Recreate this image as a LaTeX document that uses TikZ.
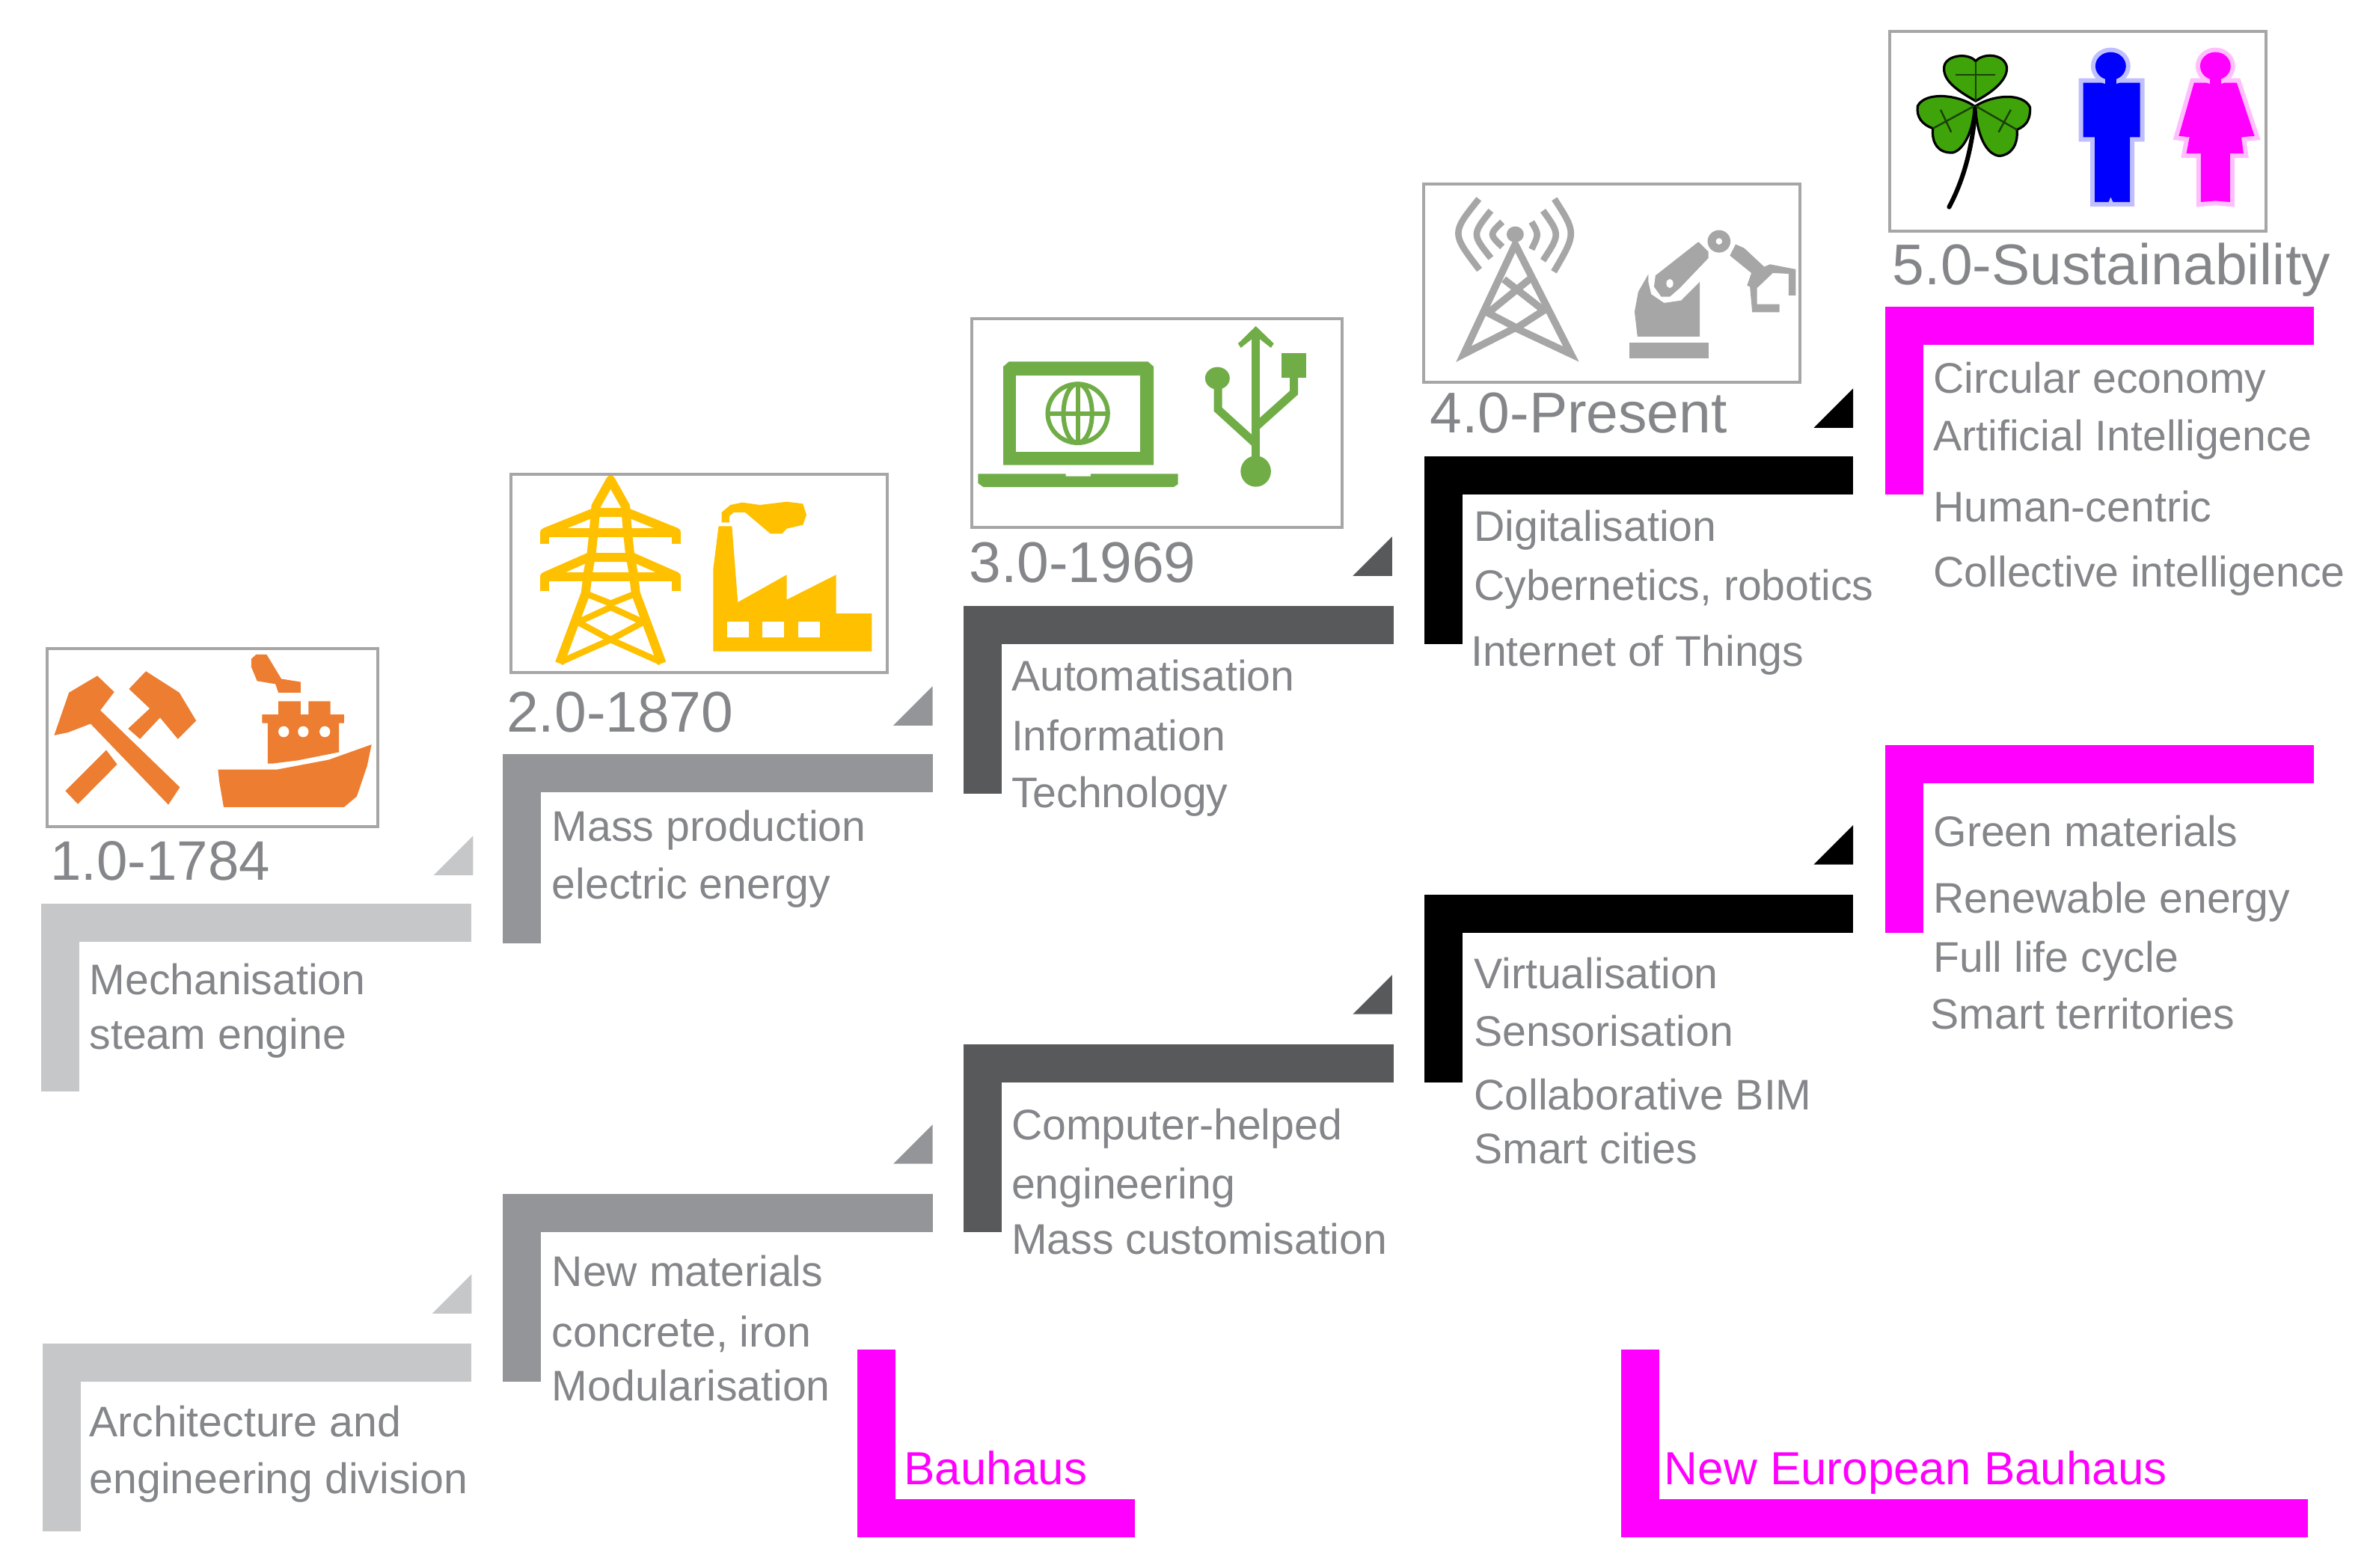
\documentclass[tikz,border=0pt]{standalone}
\usepackage{fontspec}
\setmainfont{Liberation Sans}
\usepackage{tikz}
\definecolor{bargrayA}{HTML}{C6C7C9}
\definecolor{bargrayB}{HTML}{939598}
\definecolor{bargrayC}{HTML}{58595B}
\definecolor{textgray}{HTML}{85868A}
\definecolor{boxgray}{HTML}{A6A6A6}
\definecolor{mag}{HTML}{FF00FF}
\definecolor{iconorange}{HTML}{ED7D31}
\definecolor{iconyellow}{HTML}{FFC000}
\definecolor{icongreen}{HTML}{70AD47}
\definecolor{leafgreen}{HTML}{3FA30A}

\begin{document}
\begin{tikzpicture}[
      x=1.0102pt,y=-1.0102pt,
      elbow/.style={
         line width=25.5pt,
         miter limit=10
      },
      iconbox/.style={
         draw=boxgray,
         line width=2pt,
         fill=white
      },
      stage/.style={
         anchor=base west,
         inner sep=0pt,
         text=textgray,
         font=\fontsize{38.4}{44}\selectfont
      },
      item/.style={
         anchor=base west,
         inner sep=0pt,
         text=textgray,
         font=\fontsize{28.6}{34}\selectfont
      },
      bauhaus/.style={
         anchor=base west,
         inner sep=0pt,
         text=mag,
         font=\fontsize{31}{36}\selectfont
      },
      % the icon scopes count in pixels of the zoomed crops
      cropA/.style={x=0.1977pt,y=-0.2041pt},
      cropB/.style={x=0.1977pt,y=-0.1667pt},
      cropC/.style={x=0.1913pt,y=-0.1667pt},
      cropD/.style={x=0.2041pt,y=-0.1667pt},
      pylon/.style={draw=iconyellow,line width=6pt,line join=round},
      lattice/.style={draw=iconyellow,line width=4.2pt},
      usbline/.style={draw=icongreen,line width=5.5pt},
      globe/.style={draw=icongreen,line width=3pt},
      wave/.style={draw=boxgray,line width=4.3pt},
      mast/.style={draw=boxgray,line width=4.8pt},
      leaf/.style={fill=leafgreen,draw=black,line width=1.6pt},
      vein/.style={draw=black!60!leafgreen,line width=1.2pt},
      man/.style={fill=blue,preaction={draw=blue!25,line width=6pt}},
      woman/.style={fill=mag,preaction={draw=mag!25,line width=6pt}}
    ]
    \useasboundingbox (0,0) rectangle (1568,1037.4);

    % upper stair
    \draw[elbow,draw=bargrayA] (40,722) |- (312,610.5);
    \draw[elbow,draw=bargrayB] (345,624) |- (617,511.5);
    \draw[elbow,draw=bargrayC] (650,525) |- (922,413.5);
    \draw[elbow,draw=black] (955,426) |- (1226,314.5);
    \draw[elbow,draw=mag] (1260,327) |- (1531,215.5);
    % lower stair
    \draw[elbow,draw=bargrayA] (41,1013) |- (312,901.5);
    \draw[elbow,draw=bargrayB] (345,914) |- (617,802.5);
    \draw[elbow,draw=bargrayC] (650,815) |- (922,703.5);
    \draw[elbow,draw=black] (955,716) |- (1226,604.5);
    \draw[elbow,draw=mag] (1260,617) |- (1531,505.5);
    \draw[elbow,draw=mag] (580,893) |- (751,1004.5);
    \draw[elbow,draw=mag] (1085,893) |- (1527,1004.5);

    \fill[bargrayA] (313,579) -- ++(-26,0) -- ++(26,-26) -- cycle;
    \fill[bargrayB] (617,480) -- ++(-26,0) -- ++(26,-26) -- cycle;
    \fill[bargrayC] (921,381) -- ++(-26,0) -- ++(26,-26) -- cycle;
    \fill[black] (1226,283) -- ++(-26,0) -- ++(26,-26) -- cycle;
    \fill[bargrayA] (312,869) -- ++(-26,0) -- ++(26,-26) -- cycle;
    \fill[bargrayB] (617,770) -- ++(-26,0) -- ++(26,-26) -- cycle;
    \fill[bargrayC] (921,671) -- ++(-26,0) -- ++(26,-26) -- cycle;
    \fill[black] (1226,572) -- ++(-26,0) -- ++(26,-26) -- cycle;

    \draw[iconbox] (31,429) rectangle (250,547);
    \draw[iconbox] (338,314) rectangle (587,445);
    \draw[iconbox] (643,211) rectangle (888,349);
    \draw[iconbox] (942,122) rectangle (1191,253);
    \draw[iconbox] (1250,21) rectangle (1499,153);

    \node (s1) [stage,font=\fontsize{37.2}{44}\selectfont] at (33,582.5) {1.0-1784};
    \node (s2) [stage] at (335,484.5) {2.0-1870};
    \node (s3) [stage] at (641,385.5) {3.0-1969};
    \node (s4) [stage] at (946,286.5) {4.0-Present};
    \node (s5) [stage] at (1252,188.5) {5.0-Sustainability};

    \node (n11) [item] at (59,658) {Mechanisation};
    \node (n12) [item] at (59,694) {steam engine};
    \node (n21) [item] at (365,556.5) {Mass production};
    \node (n22) [item] at (365,594.5) {electric energy};
    \node (n31) [item] at (669,457) {Automatisation};
    \node (n32) [item] at (669,496.5) {Information};
    \node (n33) [item] at (669,534.5) {Technology};
    \node (n41) [item] at (975,358) {Digitalisation};
    \node (n42) [item] at (975,397) {Cybernetics, robotics};
    \node (n43) [item] at (973,440.5) {Internet of Things};
    \node (n51) [item] at (1279,260) {Circular economy};
    \node (n52) [item] at (1279,298) {Artificial Intelligence};
    \node (n53) [item] at (1279,345) {Human-centric};
    \node (n54) [item] at (1279,388.5) {Collective intelligence};

    \node (m11) [item] at (59,950.5) {Architecture and};
    \node (m12) [item] at (59,988) {engineering division};
    \node (m21) [item] at (365,851) {New materials};
    \node (m22) [item] at (365,891) {concrete, iron};
    \node (m23) [item] at (365,927) {Modularisation};
    \node (m31) [item] at (669,754) {Computer-helped};
    \node (m32) [item] at (669,793) {engineering};
    \node (m33) [item] at (669,830) {Mass customisation};
    \node (m41) [item] at (975,654) {Virtualisation};
    \node (m42) [item] at (975,692) {Sensorisation};
    \node (m43) [item] at (975,734) {Collaborative BIM};
    \node (m44) [item] at (975,770) {Smart cities};
    \node (m51) [item] at (1279,560) {Green materials};
    \node (m52) [item] at (1279,604) {Renewable energy};
    \node (m53) [item] at (1279,643) {Full life cycle};
    \node (m54) [item] at (1277,681) {Smart territories};

    \node (b1) [bauhaus] at (598,982) {Bauhaus};
    \node (b2) [bauhaus] at (1101,982) {New European Bauhaus};

    % hammers and ship
    \begin{scope}[shift={(19.8,415.8)},cropA]
      \fill[iconorange] (82,350) -- (132,210) -- (205,168) -- (228,155) -- (285,208) -- (238,268) -- (507,520) -- (468,577) -- (205,312) -- (130,340) -- cycle;
      \fill[iconorange] (335,198) -- (392,140) -- (505,210) -- (562,302) -- (500,362) -- (440,292) -- (372,362) -- (332,328) -- (405,262) -- cycle;
      \fill[iconorange] (258,398) -- (295,445) -- (162,575) -- (120,532) -- cycle;
      \fill[iconorange] (748,100) -- (765,85) -- (800,85) -- (850,165) -- (915,175) -- (915,210) -- (840,210) -- (830,182) -- (768,172) -- (748,125) -- cycle;
      \fill[iconorange] (840,238) -- (915,238) -- (915,282) -- (942,282) -- (942,238) -- (1016,238) -- (1016,282) -- (1062,282) -- (1062,310) -- (1045,310) -- (1045,405) -- (905,432) -- (822,442) -- (804,442) -- (804,310) -- (785,310) -- (785,282) -- (840,282) -- cycle;
      \fill[white] (858,338) circle (18) (924,338) circle (18) (997,338) circle (18);
      \fill[iconorange] (636,462) -- (835,462) -- (1010,430) -- (1155,380) -- (1140,450) -- (1105,550) -- (1062,585) -- (655,585) -- (640,500) -- cycle;
    \end{scope}

    % pylon and factory
    \begin{scope}[shift={(326.7,301.9)},cropB]
      \draw[pylon] (222,830) -- (310,550) -- (318,470) -- (330,390) -- (338,300) -- (345,200) -- (395,95) -- (445,200) -- (452,300) -- (460,390) -- (472,470) -- (480,550) -- (568,830);
      \draw[pylon] (172,350) -- (172,305) -- (618,305) -- (618,350);
      \draw[pylon] (172,305) -- (340,225) -- (450,225) -- (618,305);
      \draw[pylon] (172,540) -- (172,482) -- (618,482) -- (618,540);
      \draw[pylon] (172,482) -- (320,405) -- (470,405) -- (618,482);
      \draw[lattice] (310,550) -- (395,590) -- (480,550);
      \draw[lattice] (285,665) -- (395,605) -- (505,665) -- (395,735) -- cycle;
      \draw[lattice] (225,825) -- (395,735) -- (565,825);
      \fill[iconyellow] (742,782) -- (742,450) -- (760,280) -- (805,280) -- (825,585) -- (990,475) -- (990,575) -- (1157,475) -- (1157,630) -- (1278,630) -- (1278,782) -- cycle;
      \fill[white] (788,662) rectangle (862,727);
      \fill[white] (908,662) rectangle (982,727);
      \fill[white] (1030,662) rectangle (1103,727);
      \fill[iconyellow] (770,265) -- (770,225) -- (800,195) -- (840,185) -- (900,195) -- (990,182) -- (1045,190) -- (1057,235) -- (1045,275) -- (990,290) -- (975,310) -- (935,310) -- (900,275) -- (850,225) -- (810,225) -- (797,240) -- (797,265) -- cycle;
    \end{scope}

    % laptop and usb
    \begin{scope}[shift={(633.5,202.9)},cropC]
      \fill[icongreen] (160,240) -- (180,220) -- (665,220) -- (685,240) -- (685,635) -- (160,635) -- cycle;
      \fill[white] (205,275) rectangle (637,582);
      \fill[icongreen] (72,670) -- (378,670) -- (378,680) -- (465,680) -- (465,670) -- (770,670) -- (770,712) -- (755,723) -- (90,723) -- (72,708) -- cycle;
      \draw[globe] (420,428) ellipse (105 and 118);
      \draw[globe] (420,428) ellipse (50 and 118);
      \draw[globe] (420,310) -- (420,546);
      \draw[globe] (315,428) -- (525,428);
      \draw[usbline] (1042,100) -- (1042,620);
      \fill[icongreen] (1042,78) -- (1105,148) -- (1095,165) -- (1056,130) -- (1028,130) -- (990,165) -- (980,148) -- cycle;
      \fill[icongreen] (1042,660) ellipse (53 and 62);
      \fill[icongreen] (908,287) ellipse (43 and 45);
      \draw[usbline] (910,300) -- (910,412) -- (1042,550);
      \fill[icongreen] (1133,187) rectangle (1218,285);
      \draw[usbline] (1175,280) -- (1175,345) -- (1042,482);
    \end{scope}

    % mast and robot arm
    \begin{scope}[shift={(930.5,113.8)},cropC]
      \fill[boxgray] (380,250) ellipse (30 and 32);
      \draw[mast] (380,290) -- (200,730) -- (380,625) -- (575,730) -- cycle;
      \draw[mast] (340,430) -- (480,555) -- (385,625) -- (285,565) -- (430,430);
      \draw[wave] (253,108) .. controls (157,245) .. (255,392);
      \draw[wave] (295,155) .. controls (229,250) .. (295,345);
      \draw[wave] (335,200) .. controls (289,250) .. (335,300);
      \draw[wave] (517,108) .. controls (594,245) .. (515,400);
      \draw[wave] (477,155) .. controls (537,250) .. (477,355);
      \draw[wave] (437,200) .. controls (463,250) .. (437,310);
      \fill[boxgray] (778,685) rectangle (1055,748);
      \fill[boxgray] (845,410) -- (810,480) -- (797,560) -- (807,660) -- (1025,660) -- (1025,440) -- (960,515) -- (900,525) -- (855,490) -- (845,440) -- cycle;
      \fill[boxgray] (870,415) -- (1020,280) -- (1055,320) -- (1055,345) -- (955,465) -- (920,500) -- (890,500) -- (865,460) -- cycle;
      \fill[white] (920,447) ellipse (12 and 18);
      \fill[boxgray] (1092,278) ellipse (40 and 45);
      \fill[white] (1092,278) ellipse (11 and 13);
      \fill[boxgray] (1150,290) -- (1180,305) -- (1250,380) -- (1270,370) -- (1360,390) -- (1360,495) -- (1335,495) -- (1335,408) -- (1280,405) -- (1225,465) -- (1225,530) -- (1303,530) -- (1303,562) -- (1208,562) -- (1200,460) -- (1190,455) -- (1205,405) -- (1130,335) -- cycle;
    \end{scope}

    % clover and figures
    \begin{scope}[shift={(1237.4,9.9)},cropD]
      \draw[draw=black,line width=3pt,line cap=round] (345,370) .. controls (335,520) and (310,650) .. (258,770);
      \draw[leaf] (345,345) .. controls (280,300) and (235,260) .. (242,205) .. controls (250,160) and (320,150) .. (345,185) .. controls (370,150) and (440,155) .. (447,210) .. controls (450,260) and (400,310) .. (345,345) -- cycle;
      \draw[leaf] (340,365) .. controls (290,320) and (180,305) .. (155,365) .. controls (150,410) and (170,440) .. (205,455) .. controls (200,510) and (220,555) .. (270,552) .. controls (310,540) and (340,450) .. (340,365) -- cycle;
      \draw[leaf] (345,365) .. controls (400,320) and (500,310) .. (523,370) .. controls (525,420) and (510,445) .. (480,460) .. controls (485,520) and (460,565) .. (420,565) .. controls (370,555) and (345,450) .. (345,365) -- cycle;
      \draw[vein] (345,185) -- (345,345) (280,240) -- (410,240);
      \draw[vein] (340,365) -- (205,455) (230,380) -- (265,470);
      \draw[vein] (345,365) -- (480,460) (460,380) -- (420,470);
      \fill[man] (697,272) -- (883,272) -- (883,490) -- (850,490) -- (850,750) -- (795,750) -- (787,730) -- (780,750) -- (735,750) -- (735,490) -- (697,490) -- cycle;
      \fill[man] (787,205) ellipse (50 and 56);
      \fill[blue] (770,240) rectangle (805,280);
      \fill[woman] (1060,272) -- (1200,272) -- (1258,485) -- (1215,490) -- (1222,555) -- (1178,555) -- (1178,750) -- (1130,745) -- (1082,750) -- (1082,555) -- (1035,555) -- (1045,490) -- (1010,485) -- cycle;
      \fill[woman] (1130,205) ellipse (50 and 56);
      \fill[mag] (1113,240) rectangle (1148,280);
    \end{scope}
\end{tikzpicture}
\end{document}
